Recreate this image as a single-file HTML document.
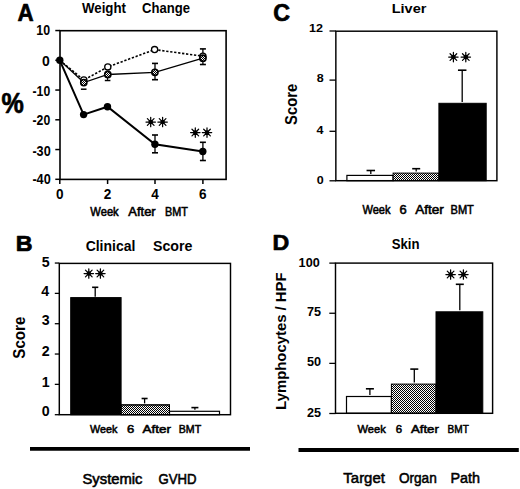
<!DOCTYPE html>
<html><head><meta charset="utf-8"><style>
html,body{margin:0;padding:0;background:#fff;}
svg{display:block;}
text{font-family:"Liberation Sans",sans-serif;font-weight:bold;fill:#000;stroke:none;}
.lt{font-weight:normal;stroke:#000;stroke-width:0.55px;}
.hv{stroke:#000;stroke-width:0.7px;stroke-linejoin:round;}
</style></head><body>
<svg width="520" height="489" viewBox="0 0 520 489" stroke="#000" stroke-linecap="butt">
<defs><pattern id="chk" width="2" height="2" patternUnits="userSpaceOnUse"><rect width="2" height="2" fill="#fff" stroke="none"/><rect width="1" height="1" fill="#000" stroke="none"/><rect x="1" y="1" width="1" height="1" fill="#000" stroke="none"/></pattern><pattern id="chkL" width="2" height="2" patternUnits="userSpaceOnUse"><rect width="2" height="2" fill="#fff" stroke="none"/><rect width="1" height="1" fill="#000" stroke="none"/><rect x="1" y="1" width="1" height="1" fill="#000" stroke="none"/></pattern></defs>
<rect width="520" height="489" fill="#fff" stroke="none"/>
<g stroke="none">
</g>
<text class="hv" x="17.54" y="20.60" font-size="23.71" textLength="16.17" lengthAdjust="spacingAndGlyphs">A</text>
<text x="81.97" y="12.50" font-size="13.79" textLength="43.99" lengthAdjust="spacingAndGlyphs">Weight</text>
<text x="141.98" y="12.50" font-size="13.79" textLength="47.98" lengthAdjust="spacingAndGlyphs">Change</text>
<text class="hv" x="1.47" y="113.40" font-size="29.21" textLength="22.30" lengthAdjust="spacingAndGlyphs">%</text>
<rect x="60.00" y="30.70" width="166.10" height="148.70" fill="none" stroke="#000" stroke-width="1.6"/>
<line x1="55.30" y1="30.55" x2="60.00" y2="30.55" stroke-width="1.5"/>
<text x="36.35" y="35.20" font-size="14.4" textLength="13.78" lengthAdjust="spacingAndGlyphs">10</text>
<line x1="55.30" y1="60.30" x2="60.00" y2="60.30" stroke-width="1.5"/>
<text x="42.01" y="65.90" font-size="14.4" textLength="7.77" lengthAdjust="spacingAndGlyphs">0</text>
<line x1="55.30" y1="90.05" x2="60.00" y2="90.05" stroke-width="1.5"/>
<text x="32.50" y="95.50" font-size="14.4" textLength="17.69" lengthAdjust="spacingAndGlyphs">-10</text>
<line x1="55.30" y1="119.80" x2="60.00" y2="119.80" stroke-width="1.5"/>
<text x="32.50" y="125.20" font-size="14.4" textLength="17.69" lengthAdjust="spacingAndGlyphs">-20</text>
<line x1="55.30" y1="149.55" x2="60.00" y2="149.55" stroke-width="1.5"/>
<text x="32.40" y="155.50" font-size="14.4" textLength="18.32" lengthAdjust="spacingAndGlyphs">-30</text>
<line x1="55.30" y1="179.30" x2="60.00" y2="179.30" stroke-width="1.5"/>
<text x="32.40" y="184.00" font-size="14.4" textLength="18.32" lengthAdjust="spacingAndGlyphs">-40</text>
<line x1="59.80" y1="179.40" x2="59.80" y2="184.00" stroke-width="1.5"/>
<text x="56.03" y="199.30" font-size="14.6" textLength="7.55" lengthAdjust="spacingAndGlyphs">0</text>
<line x1="107.60" y1="179.40" x2="107.60" y2="184.00" stroke-width="1.5"/>
<text x="103.87" y="199.30" font-size="14.6" textLength="7.55" lengthAdjust="spacingAndGlyphs">2</text>
<line x1="155.00" y1="179.40" x2="155.00" y2="184.00" stroke-width="1.5"/>
<text x="151.16" y="199.30" font-size="14.6" textLength="7.55" lengthAdjust="spacingAndGlyphs">4</text>
<line x1="202.90" y1="179.40" x2="202.90" y2="184.00" stroke-width="1.5"/>
<text x="199.12" y="199.30" font-size="14.6" textLength="7.55" lengthAdjust="spacingAndGlyphs">6</text>
<text class="lt" x="90.37" y="215.50" font-size="11.86" textLength="28.32" lengthAdjust="spacingAndGlyphs">Week</text>
<text class="lt" x="128.31" y="215.50" font-size="11.86" textLength="27.35" lengthAdjust="spacingAndGlyphs">After</text>
<text class="lt" x="165.09" y="215.50" font-size="11.86" textLength="22.93" lengthAdjust="spacingAndGlyphs">BMT</text>
<line x1="80.90" y1="89.20" x2="86.50" y2="89.20" stroke-width="1.5"/>
<line x1="104.80" y1="80.50" x2="110.40" y2="80.50" stroke-width="1.5"/>
<line x1="107.60" y1="74.50" x2="107.60" y2="80.50" stroke-width="1.0"/>
<line x1="155.00" y1="63.40" x2="155.00" y2="79.70" stroke-width="1.3"/>
<line x1="152.00" y1="63.40" x2="158.00" y2="63.40" stroke-width="1.6"/>
<line x1="152.00" y1="79.70" x2="158.00" y2="79.70" stroke-width="1.6"/>
<line x1="202.90" y1="48.90" x2="202.90" y2="64.50" stroke-width="1.3"/>
<line x1="199.90" y1="48.90" x2="205.90" y2="48.90" stroke-width="1.6"/>
<line x1="199.90" y1="64.50" x2="205.90" y2="64.50" stroke-width="1.6"/>
<line x1="155.00" y1="135.00" x2="155.00" y2="152.80" stroke-width="1.3"/>
<line x1="152.00" y1="135.00" x2="158.00" y2="135.00" stroke-width="1.6"/>
<line x1="152.00" y1="152.80" x2="158.00" y2="152.80" stroke-width="1.6"/>
<line x1="202.90" y1="142.30" x2="202.90" y2="160.50" stroke-width="1.3"/>
<line x1="199.90" y1="142.30" x2="205.90" y2="142.30" stroke-width="1.6"/>
<line x1="199.90" y1="160.50" x2="205.90" y2="160.50" stroke-width="1.6"/>
<polyline points="59.8,60.3 83.8,80.0 107.8,66.9 154.6,49.6 202.9,56.2" fill="none" stroke-width="1.6" stroke-dasharray="2.3 1.7"/>
<polyline points="59.8,60.3 83.8,82.6 107.8,74.5 154.9,72.3 202.9,58.2" fill="none" stroke-width="1.3"/>
<polyline points="59.8,60.3 83.6,114.6 107.5,106.7 154.9,144.2 202.8,151.5" fill="none" stroke-width="2"/>
<circle cx="83.8" cy="80.0" r="3.1" fill="#fff" stroke-width="1.3"/>
<circle cx="107.8" cy="66.9" r="3.1" fill="#fff" stroke-width="1.3"/>
<circle cx="154.6" cy="49.6" r="3.1" fill="#fff" stroke-width="1.3"/>
<circle cx="202.9" cy="56.2" r="3.1" fill="#fff" stroke-width="1.3"/>
<circle cx="83.8" cy="82.6" r="3.1" fill="url(#chkL)" stroke-width="1.6"/>
<circle cx="107.8" cy="74.5" r="3.1" fill="url(#chkL)" stroke-width="1.6"/>
<circle cx="154.9" cy="72.3" r="3.1" fill="url(#chkL)" stroke-width="1.6"/>
<circle cx="202.9" cy="58.2" r="3.1" fill="url(#chkL)" stroke-width="1.6"/>
<circle cx="59.8" cy="60.3" r="3.7" fill="#000" stroke="none"/>
<circle cx="83.6" cy="114.6" r="3.7" fill="#000" stroke="none"/>
<circle cx="107.5" cy="106.7" r="3.7" fill="#000" stroke="none"/>
<circle cx="154.9" cy="144.2" r="3.7" fill="#000" stroke="none"/>
<circle cx="202.8" cy="151.5" r="3.7" fill="#000" stroke="none"/>
<path d="M146.00 122.00L155.40 122.00M147.38 118.68L154.02 125.32M150.70 117.30L150.70 126.70M154.02 118.68L147.38 125.32" stroke-width="1.25" stroke-linecap="round"/>
<circle cx="150.70" cy="122.00" r="2.30" fill="#000" stroke="none"/>
<path d="M157.90 122.00L167.30 122.00M159.28 118.68L165.92 125.32M162.60 117.30L162.60 126.70M165.92 118.68L159.28 125.32" stroke-width="1.25" stroke-linecap="round"/>
<circle cx="162.60" cy="122.00" r="2.30" fill="#000" stroke="none"/>
<path d="M190.60 132.60L200.00 132.60M191.98 129.28L198.62 135.92M195.30 127.90L195.30 137.30M198.62 129.28L191.98 135.92" stroke-width="1.25" stroke-linecap="round"/>
<circle cx="195.30" cy="132.60" r="2.30" fill="#000" stroke="none"/>
<path d="M202.30 132.60L211.70 132.60M203.68 129.28L210.32 135.92M207.00 127.90L207.00 137.30M210.32 129.28L203.68 135.92" stroke-width="1.25" stroke-linecap="round"/>
<circle cx="207.00" cy="132.60" r="2.30" fill="#000" stroke="none"/>
<text class="hv" x="15.83" y="250.80" font-size="22.98" textLength="16.81" lengthAdjust="spacingAndGlyphs">B</text>
<text x="85.64" y="250.50" font-size="15.03" textLength="49.73" lengthAdjust="spacingAndGlyphs">Clinical</text>
<text x="152.97" y="250.50" font-size="15.03" textLength="39.41" lengthAdjust="spacingAndGlyphs">Score</text>
<line x1="54.80" y1="414.70" x2="59.30" y2="414.70" stroke-width="1.3"/>
<text x="41.89" y="415.90" font-size="14.2" textLength="7.90" lengthAdjust="spacingAndGlyphs">0</text>
<line x1="54.80" y1="384.37" x2="59.30" y2="384.37" stroke-width="1.3"/>
<text x="41.71" y="386.70" font-size="14.2" textLength="7.90" lengthAdjust="spacingAndGlyphs">1</text>
<line x1="54.80" y1="354.04" x2="59.30" y2="354.04" stroke-width="1.3"/>
<text x="41.89" y="356.10" font-size="14.2" textLength="7.90" lengthAdjust="spacingAndGlyphs">2</text>
<line x1="54.80" y1="323.71" x2="59.30" y2="323.71" stroke-width="1.3"/>
<text x="41.82" y="325.40" font-size="14.2" textLength="7.90" lengthAdjust="spacingAndGlyphs">3</text>
<line x1="54.80" y1="293.38" x2="59.30" y2="293.38" stroke-width="1.3"/>
<text x="41.39" y="295.60" font-size="14.2" textLength="7.90" lengthAdjust="spacingAndGlyphs">4</text>
<line x1="54.80" y1="263.05" x2="59.30" y2="263.05" stroke-width="1.3"/>
<text x="41.71" y="266.70" font-size="14.2" textLength="7.90" lengthAdjust="spacingAndGlyphs">5</text>
<rect x="70.70" y="297.60" width="50.40" height="117.10" fill="#000"/>
<rect x="121.10" y="404.90" width="48.40" height="9.80" fill="url(#chk)"/>
<rect x="121.1" y="404.9" width="48.4" height="9.80" fill="none" stroke="#000" stroke-width="1"/>
<rect x="169.5" y="411.3" width="50.0" height="3.40" fill="#fff" stroke="#000" stroke-width="1.2"/>
<line x1="95.20" y1="287.30" x2="95.20" y2="296.80" stroke-width="1.3"/>
<line x1="92.10" y1="287.30" x2="98.30" y2="287.30" stroke-width="1.6"/>
<line x1="144.60" y1="398.50" x2="144.60" y2="403.40" stroke-width="1.3"/>
<line x1="141.60" y1="398.50" x2="147.60" y2="398.50" stroke-width="1.6"/>
<line x1="194.90" y1="407.60" x2="194.90" y2="409.80" stroke-width="1.3"/>
<line x1="191.40" y1="407.60" x2="198.40" y2="407.60" stroke-width="1.6"/>
<rect x="59.30" y="263.40" width="171.20" height="151.30" fill="none" stroke="#000" stroke-width="1.45"/>
<path d="M84.10 273.50L93.50 273.50M85.48 270.18L92.12 276.82M88.80 268.80L88.80 278.20M92.12 270.18L85.48 276.82" stroke-width="1.25" stroke-linecap="round"/>
<circle cx="88.80" cy="273.50" r="2.30" fill="#000" stroke="none"/>
<path d="M95.70 273.50L105.10 273.50M97.08 270.18L103.72 276.82M100.40 268.80L100.40 278.20M103.72 270.18L97.08 276.82" stroke-width="1.25" stroke-linecap="round"/>
<circle cx="100.40" cy="273.50" r="2.30" fill="#000" stroke="none"/>
<text transform="translate(25.40,358.20) rotate(-90)" x="-0.45" y="0" font-size="17.20" textLength="41.97" lengthAdjust="spacingAndGlyphs">Score</text>
<text class="lt" x="90.07" y="432.90" font-size="11.59" textLength="27.42" lengthAdjust="spacingAndGlyphs">Week</text>
<text class="lt" x="127.11" y="432.90" font-size="11.59" textLength="7.26" lengthAdjust="spacingAndGlyphs">6</text>
<text class="lt" x="142.59" y="432.90" font-size="11.59" textLength="28.47" lengthAdjust="spacingAndGlyphs">After</text>
<text class="lt" x="178.80" y="432.90" font-size="11.59" textLength="22.41" lengthAdjust="spacingAndGlyphs">BMT</text>
<text class="hv" x="273.27" y="20.50" font-size="23.23" textLength="16.76" lengthAdjust="spacingAndGlyphs">C</text>
<text x="391.72" y="12.90" font-size="13.38" textLength="34.70" lengthAdjust="spacingAndGlyphs">Liver</text>
<line x1="329.50" y1="31.00" x2="335.85" y2="31.00" stroke-width="1.3"/>
<text x="308.98" y="32.20" font-size="11.2" textLength="13.95" lengthAdjust="spacingAndGlyphs">12</text>
<line x1="329.50" y1="80.10" x2="335.85" y2="80.10" stroke-width="1.3"/>
<text x="316.71" y="82.00" font-size="11.2" textLength="6.98" lengthAdjust="spacingAndGlyphs">8</text>
<line x1="329.50" y1="131.30" x2="335.85" y2="131.30" stroke-width="1.3"/>
<text x="316.40" y="133.50" font-size="11.2" textLength="6.98" lengthAdjust="spacingAndGlyphs">4</text>
<line x1="329.50" y1="180.80" x2="335.85" y2="180.80" stroke-width="1.3"/>
<text x="316.84" y="183.90" font-size="11.2" textLength="6.98" lengthAdjust="spacingAndGlyphs">0</text>
<rect x="346.90" y="175.40" width="46.20" height="5.30" fill="#fff" stroke="#000" stroke-width="1.2"/>
<rect x="393.10" y="173.10" width="45.80" height="7.60" fill="url(#chk)" stroke="#000" stroke-width="1"/>
<rect x="438.90" y="103.30" width="47.30" height="77.40" fill="#000"/>
<line x1="370.80" y1="170.50" x2="370.80" y2="173.90" stroke-width="1.3"/>
<line x1="366.55" y1="170.50" x2="375.05" y2="170.50" stroke-width="1.6"/>
<line x1="416.20" y1="168.70" x2="416.20" y2="171.60" stroke-width="1.3"/>
<line x1="412.20" y1="168.70" x2="420.20" y2="168.70" stroke-width="1.6"/>
<line x1="462.20" y1="70.20" x2="462.20" y2="102.10" stroke-width="1.3"/>
<line x1="457.95" y1="70.20" x2="466.45" y2="70.20" stroke-width="1.6"/>
<rect x="335.85" y="31.20" width="161.05" height="149.50" fill="none" stroke="#000" stroke-width="1.45"/>
<path d="M448.70 57.10L458.10 57.10M450.08 53.78L456.72 60.42M453.40 52.40L453.40 61.80M456.72 53.78L450.08 60.42" stroke-width="1.25" stroke-linecap="round"/>
<circle cx="453.40" cy="57.10" r="2.30" fill="#000" stroke="none"/>
<path d="M461.10 57.10L470.50 57.10M462.48 53.78L469.12 60.42M465.80 52.40L465.80 61.80M469.12 53.78L462.48 60.42" stroke-width="1.25" stroke-linecap="round"/>
<circle cx="465.80" cy="57.10" r="2.30" fill="#000" stroke="none"/>
<text transform="translate(296.70,124.50) rotate(-90)" x="-0.44" y="0" font-size="16.63" textLength="41.15" lengthAdjust="spacingAndGlyphs">Score</text>
<text class="lt" x="362.47" y="213.75" font-size="12.07" textLength="28.02" lengthAdjust="spacingAndGlyphs">Week</text>
<text class="lt" x="399.51" y="213.75" font-size="12.07" textLength="7.20" lengthAdjust="spacingAndGlyphs">6</text>
<text class="lt" x="415.19" y="213.75" font-size="12.07" textLength="28.72" lengthAdjust="spacingAndGlyphs">After</text>
<text class="lt" x="450.52" y="213.75" font-size="12.07" textLength="23.35" lengthAdjust="spacingAndGlyphs">BMT</text>
<text class="hv" x="272.64" y="250.30" font-size="22.98" textLength="16.74" lengthAdjust="spacingAndGlyphs">D</text>
<text x="391.70" y="249.20" font-size="14.34" textLength="27.81" lengthAdjust="spacingAndGlyphs">Skin</text>
<line x1="329.30" y1="263.12" x2="335.50" y2="263.12" stroke-width="1.3"/>
<text x="298.62" y="267.00" font-size="12.4" textLength="21.10" lengthAdjust="spacingAndGlyphs">100</text>
<line x1="329.30" y1="313.25" x2="335.50" y2="313.25" stroke-width="1.3"/>
<text x="306.91" y="316.30" font-size="12.4" textLength="14.07" lengthAdjust="spacingAndGlyphs">75</text>
<line x1="329.30" y1="363.38" x2="335.50" y2="363.38" stroke-width="1.3"/>
<text x="307.07" y="366.40" font-size="12.4" textLength="14.07" lengthAdjust="spacingAndGlyphs">50</text>
<line x1="329.30" y1="413.50" x2="335.50" y2="413.50" stroke-width="1.3"/>
<text x="306.91" y="417.00" font-size="12.4" textLength="14.07" lengthAdjust="spacingAndGlyphs">25</text>
<rect x="346.50" y="396.50" width="44.90" height="16.80" fill="#fff" stroke="#000" stroke-width="1.2"/>
<rect x="391.40" y="384.10" width="44.60" height="29.20" fill="url(#chk)" stroke="#000" stroke-width="1"/>
<rect x="436.00" y="311.80" width="46.80" height="101.50" fill="#000"/>
<line x1="369.90" y1="388.80" x2="369.90" y2="395.00" stroke-width="1.3"/>
<line x1="365.90" y1="388.80" x2="373.90" y2="388.80" stroke-width="1.6"/>
<line x1="414.30" y1="369.10" x2="414.30" y2="382.60" stroke-width="1.3"/>
<line x1="410.30" y1="369.10" x2="418.30" y2="369.10" stroke-width="1.6"/>
<line x1="459.80" y1="284.30" x2="459.80" y2="310.30" stroke-width="1.3"/>
<line x1="455.80" y1="284.30" x2="463.80" y2="284.30" stroke-width="1.6"/>
<rect x="335.50" y="263.10" width="157.10" height="150.20" fill="none" stroke="#000" stroke-width="1.45"/>
<path d="M445.90 274.50L455.30 274.50M447.28 271.18L453.92 277.82M450.60 269.80L450.60 279.20M453.92 271.18L447.28 277.82" stroke-width="1.25" stroke-linecap="round"/>
<circle cx="450.60" cy="274.50" r="2.30" fill="#000" stroke="none"/>
<path d="M458.70 274.50L468.10 274.50M460.08 271.18L466.72 277.82M463.40 269.80L463.40 279.20M466.72 271.18L460.08 277.82" stroke-width="1.25" stroke-linecap="round"/>
<circle cx="463.40" cy="274.50" r="2.30" fill="#000" stroke="none"/>
<text transform="translate(286.40,408.90) rotate(-90)" x="-1.00" y="0" font-size="15.00" textLength="137.53" lengthAdjust="spacingAndGlyphs">Lymphocytes / HPF</text>
<text class="lt" x="357.47" y="433.00" font-size="11.72" textLength="28.27" lengthAdjust="spacingAndGlyphs">Week</text>
<text class="lt" x="395.82" y="433.00" font-size="11.72" textLength="6.34" lengthAdjust="spacingAndGlyphs">6</text>
<text class="lt" x="410.95" y="433.00" font-size="11.72" textLength="27.96" lengthAdjust="spacingAndGlyphs">After</text>
<text class="lt" x="447.59" y="433.00" font-size="11.72" textLength="21.27" lengthAdjust="spacingAndGlyphs">BMT</text>
<line x1="30.00" y1="448.80" x2="250.00" y2="448.80" stroke-width="3.8"/>
<line x1="298.50" y1="449.90" x2="518.80" y2="449.90" stroke-width="4"/>
<text class="lt" x="82.49" y="483.70" font-size="13.79" textLength="60.01" lengthAdjust="spacingAndGlyphs">Systemic</text>
<text class="lt" x="158.57" y="483.70" font-size="13.79" textLength="37.97" lengthAdjust="spacingAndGlyphs">GVHD</text>
<text class="lt" x="343.36" y="482.70" font-size="15.27" textLength="41.51" lengthAdjust="spacingAndGlyphs">Target</text>
<text class="lt" x="398.89" y="482.70" font-size="15.27" textLength="37.89" lengthAdjust="spacingAndGlyphs">Organ</text>
<text class="lt" x="450.48" y="482.70" font-size="15.27" textLength="29.57" lengthAdjust="spacingAndGlyphs">Path</text>
</svg>
</body></html>
